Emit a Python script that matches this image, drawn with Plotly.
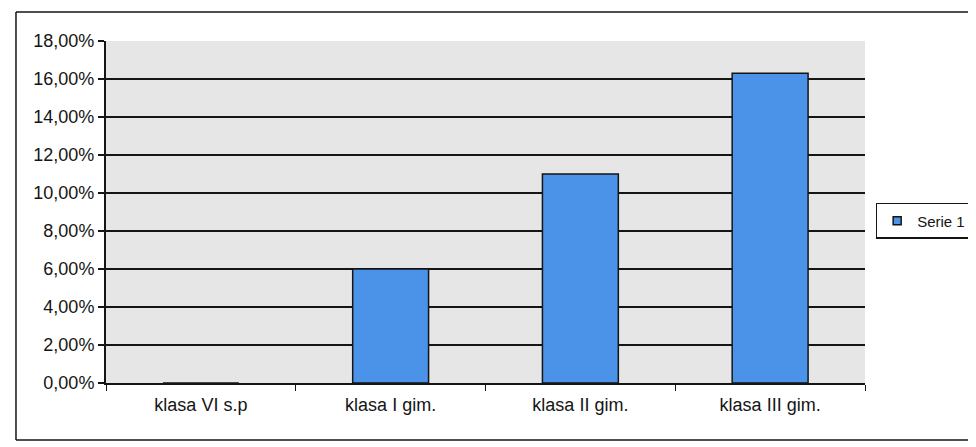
import plotly.graph_objects as go

categories = ["klasa VI s.p", "klasa I gim.", "klasa II gim.", "klasa III gim."]
values = [0.0, 0.060, 0.110, 0.163]
tick_vals = [0, 0.02, 0.04, 0.06, 0.08, 0.10, 0.12, 0.14, 0.16, 0.18]

BAR = "#4b93e8"
INK = "#151515"

fig = go.Figure()
fig.add_trace(go.Bar(
    x=categories, y=values, name="Serie 1", showlegend=False,
    marker=dict(color=BAR, line=dict(color=INK, width=1.5)),
    width=0.4,
))
# legend entry with small square marker, like the original
fig.add_trace(go.Scatter(
    x=[None], y=[None], mode="markers", name="Serie 1",
    marker=dict(symbol="square", size=8, color=BAR, line=dict(color=INK, width=1.5)),
))

fig.update_layout(
    width=976, height=447,
    margin=dict(l=98, r=119, t=33, b=72, autoexpand=False),
    paper_bgcolor="white",
    plot_bgcolor="#e6e6e6",
    separators=",.",
    font=dict(family="Liberation Sans, Arial, sans-serif", size=18, color=INK),
    showlegend=True,
    legend=dict(xref="container", yref="container", x=0.889, y=0.5235,
                xanchor="left", yanchor="middle",
                bordercolor=INK, borderwidth=1.5, bgcolor="white",
                font=dict(size=15, color=INK), itemwidth=30),
)
fig.update_yaxes(
    range=[0, 0.18], tickvals=tick_vals, tickformat=".2%",
    showgrid=True, gridcolor=INK, gridwidth=1.5,
    showline=True, linecolor=INK, linewidth=2,
    ticks="outside", ticklen=6, tickcolor=INK, tickwidth=1.5,
    tickfont=dict(size=18, color=INK), zeroline=False,
)
fig.update_xaxes(
    showline=True, linecolor=INK, linewidth=2,
    ticks="outside", tickson="boundaries", ticklen=6, tickcolor=INK,
    tickfont=dict(size=18, color=INK), ticklabelstandoff=4,
)
# outer chart frame (left, top, bottom)
frame = dict(xref="paper", yref="paper", line=dict(color=INK, width=1.5))
fig.add_shape(type="line", x0=-0.1186, x1=-0.1186, y0=-0.1667, y1=1.0848, **frame)
fig.add_shape(type="line", x0=-0.1186, x1=1.146, y0=1.0848, y1=1.0848, **frame)
fig.add_shape(type="line", x0=-0.1186, x1=1.146, y0=-0.1667, y1=-0.1667, **frame)

fig.write_html("out.html")
